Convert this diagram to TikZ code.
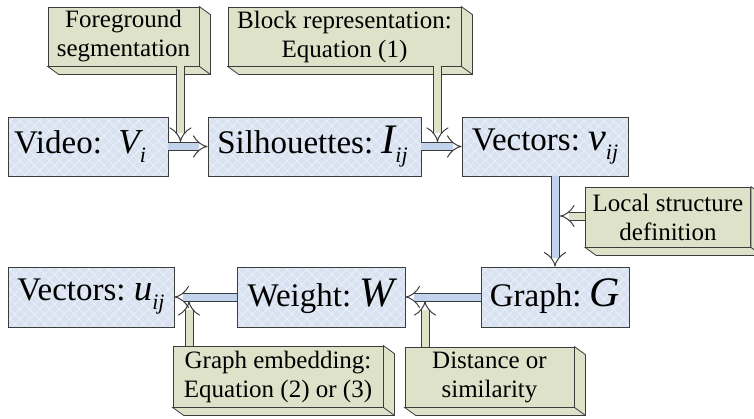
\documentclass[tikz,border=0pt]{standalone}
\usepackage{fontspec}
\setmainfont{Liberation Serif}
\usepackage{tikz}
\usetikzlibrary{calc,arrows.meta,patterns.meta}
\definecolor{boxblue}{HTML}{D9E2F0}
\definecolor{hatchblue}{HTML}{EEF2F9}
\definecolor{arrowblue}{HTML}{C3D3EC}
\definecolor{boxgreen}{HTML}{DDE2C9}
\definecolor{boxline}{HTML}{3C3C3C}
\newcommand{\symb}[3]{{\fontsize{#2}{#2}\selectfont\itshape #1}\raisebox{-9pt}{\fontsize{22}{22}\selectfont\itshape #3}}
\tikzset{
  stage/.style={draw=boxline,line width=.8pt,inner sep=0pt,minimum height=59pt,
    preaction={fill=boxblue},pattern={Hatch[angle=45,distance=7pt,line width=.6pt]},pattern color=hatchblue,
    font=\fontsize{33}{36}\selectfont},
  note/.style={draw=boxline,fill=boxgreen,line width=.8pt,inner sep=0pt,minimum height=59pt,
    align=center,font=\fontsize{25}{29}\selectfont},
  flow/.style={line width=1pt,draw=boxline,double=arrowblue,double distance=7pt,-{Implies}},
  hint/.style={line width=1pt,draw=boxline,double=boxgreen,double distance=7pt,-{Implies}}
}
\begin{document}
\begin{tikzpicture}[x=1pt,y=-1pt]
\useasboundingbox (0,0) rectangle (754,418);
% processing stages
\node[stage,minimum width=160pt] (video) at (88,146.5) {Video:\ \ \symb{V}{35}{i}\hspace*{16pt}};
\node[stage,minimum width=213pt] (silh) at (314.5,146.5) {Silhouettes:\ \symb{I}{42}{ij}\hspace*{4pt}};
\node[stage,minimum width=166pt] (vecv) at (545,146.5) {Vectors:\ \symb{v}{40}{ij}};
\node[stage,minimum width=148pt,minimum height=60pt] (graph) at (555,297) {Graph:\ \symb{G}{42}{}};
\node[stage,minimum width=168pt,minimum height=60pt] (weight) at (321,297) {Weight:\ \symb{W}{42}{}};
\node[stage,minimum width=166pt,minimum height=60pt] (vecu) at (91,297) {Vectors:\ \symb{u}{37}{ij}};
% methods
\node[note,minimum width=151pt] (fgseg) at (123.5,36.5) {Foreground\\segmentation};
\node[note,minimum width=233pt] (blockrep) at (344.5,36.5) {Block representation:\\Equation (1)};
\node[note,minimum width=165pt,minimum height=60pt] (localdef) at (668,217) {Local structure\\definition};
\node[note,minimum width=210pt,minimum height=61pt] (embed) at (278,376.5) {Graph embedding:\\Equation (2) or (3)};
\node[note,minimum width=169pt,minimum height=60pt] (dist) at (489.5,377) {Distance or\\similarity};
\foreach \n in {fgseg,blockrep,localdef,embed,dist}{
  \path[fill=boxgreen,draw=boxline,line width=.8pt] (\n.north east) -- ++(11,8) -- ($(\n.south east)+(11,8)$)
    -- ($(\n.south west)+(11,8)$) -- (\n.south west) -- (\n.south east) -- cycle;
  \draw[boxline,line width=.8pt] (\n.south east) -- ++(11,8);
}
% connectors
\draw[flow] (video) -- (silh);
\draw[flow] (silh) -- (vecv);
\draw[flow] (graph.north |- vecv.south) -- (graph.north);
\draw[flow] (graph) -- (weight);
\draw[flow] (weight) -- (vecu);
\coordinate (fgin) at (180.5,142);
\coordinate (blockin) at (437.5,142);
\coordinate (locin) at (560,216);
\coordinate (embin) at (189,301);
\coordinate (distin) at (425,301);
\draw[hint] (fgseg.south -| fgin) -- (fgin);
\draw[hint] (blockrep.south -| blockin) -- (blockin);
\draw[hint] (localdef.west |- locin) -- (locin);
\draw[hint] (embed.north -| embin) -- (embin);
\draw[hint] (dist.north -| distin) -- (distin);
\end{tikzpicture}
\end{document}
